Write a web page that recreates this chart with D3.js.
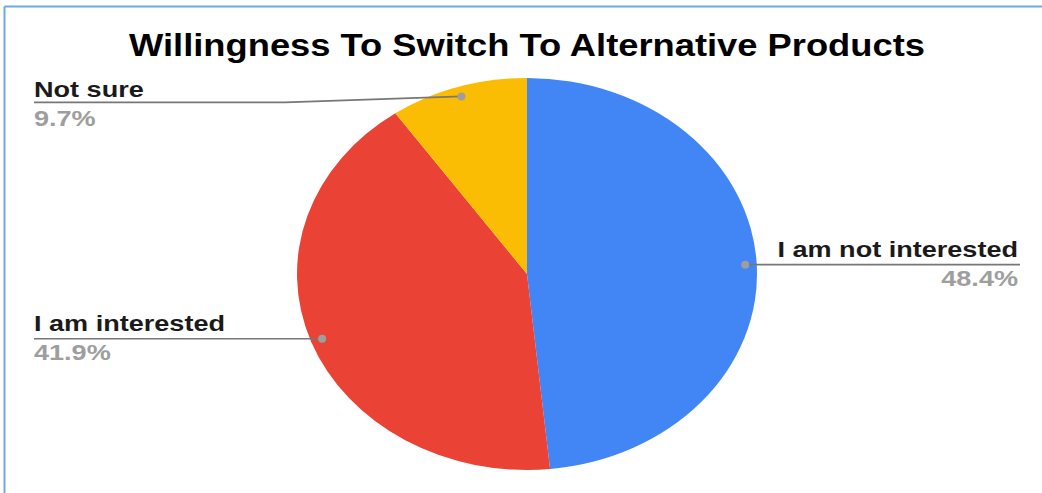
<!DOCTYPE html>
<html><head><meta charset="utf-8">
<script src="https://cdn.jsdelivr.net/npm/d3@7"></script>
<style>body{margin:0;background:#fff}svg{display:block}</style>
</head><body>
<svg id="c" width="1042" height="493"></svg>
<script>
const title = "Willingness To Switch To Alternative Products";
const categories = ["I am not interested", "I am interested", "Not sure"];
const values = [48.4, 41.9, 9.7];
const colors = ["#4285f4", "#ea4335", "#fbbc04"];

const svg = d3.select("#c");
const W = 1042, H = 493;
// frame
svg.append("line").attr("x1",4.5).attr("x2",W).attr("y1",6.5).attr("y2",6.5).attr("stroke","#6fa8e0").attr("stroke-width",2);
svg.append("line").attr("x1",4.5).attr("x2",4.5).attr("y1",6.5).attr("y2",H).attr("stroke","#6fa8e0").attr("stroke-width",2);

const cx = 527, cy = 274, ry = 196, rx = 230, sx = rx/ry;
const pie = d3.pie().sort(null).value(d => d)(values);
const arc = d3.arc().innerRadius(0).outerRadius(ry);
const g = svg.append("g").attr("transform", `translate(${cx},${cy}) scale(${sx},1)`);
g.selectAll("path").data(pie).join("path").attr("d", arc).attr("fill", (d,i) => colors[i]);

// title
const tstretch = 1.135;
svg.append("text").attr("transform", `translate(527,56) scale(${tstretch},1)`)
  .attr("text-anchor","middle").attr("font-family","Liberation Sans, Arial, sans-serif")
  .attr("font-weight","bold").attr("font-size",32).attr("fill","#000").text(title);

// labels
const lstretch = 1.23;
const fmt = v => d3.format(".1f")(v) + "%";
const layout = [
  {side:"right", tx:1018, lineEnd:1020, ty:257},
  {side:"left",  tx:34, lineEnd:34, ty:331, elbow:null},
  {side:"left",  tx:34, lineEnd:34, ty:97, elbow:285}
];
pie.forEach((d,i) => {
  const a = (d.startAngle + d.endAngle)/2;
  const px = cx + Math.sin(a)*ry*0.95*sx;
  const py = cy - Math.cos(a)*ry*0.95;
  const L = layout[i];
  const ly = i === 2 ? py + 6 : py;
  const pts = [[px,py]];
  if (L.elbow) pts.push([L.elbow, ly]);
  pts.push([L.lineEnd, ly]);
  svg.append("path").attr("d", d3.line()(pts)).attr("fill","none").attr("stroke","#777").attr("stroke-width",1.6);
  svg.append("circle").attr("cx",px).attr("cy",py).attr("r",4).attr("fill","#9e9e9e");
  const anchor = L.side === "right" ? "end" : "start";
  svg.append("text").attr("transform",`translate(${L.tx},${L.ty}) scale(${lstretch},1)`)
    .attr("text-anchor",anchor).attr("font-family","Liberation Sans, Arial, sans-serif")
    .attr("font-weight","bold").attr("font-size",22).attr("fill","#1a1a1a").text(categories[i]);
  svg.append("text").attr("transform",`translate(${L.tx},${L.ty+29}) scale(${lstretch},1)`)
    .attr("text-anchor",anchor).attr("font-family","Liberation Sans, Arial, sans-serif")
    .attr("font-weight","bold").attr("font-size",22).attr("fill","#9e9e9e").text(fmt(values[i]));
});
</script>
</body></html>
